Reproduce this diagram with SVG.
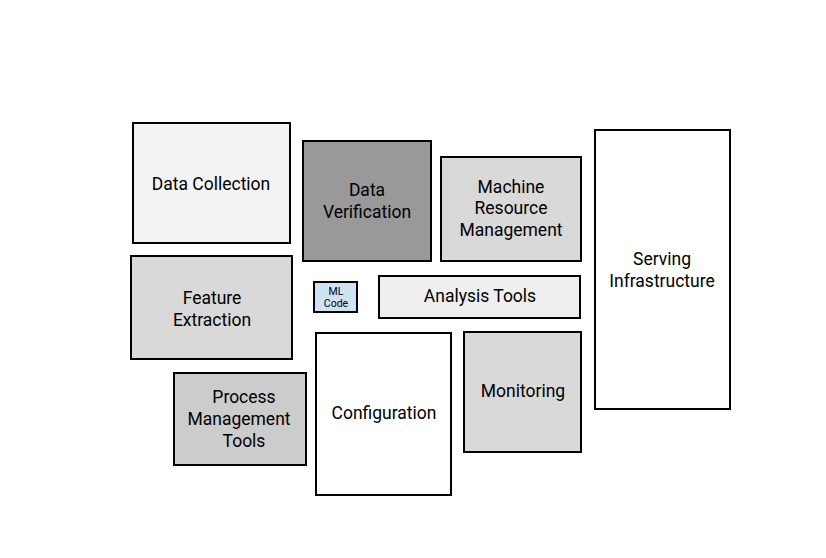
<svg xmlns="http://www.w3.org/2000/svg" width="826" height="558" viewBox="0 0 826 558">
<style>
rect{stroke:#000;stroke-width:2}
text{font-family:Roboto,"Liberation Sans",sans-serif;font-size:17.5px;fill:#000;text-anchor:middle}
.s{font-size:10.5px}
</style>
<rect x="0" y="0" width="826" height="558" style="fill:#fff;stroke:none"/>
<g id="data-collection"><rect x="133" y="123" width="157" height="120" fill="#f3f3f3"/><text x="211" y="190">Data Collection</text></g>
<g id="data-verification"><rect x="303" y="141" width="128" height="120" fill="#999999"/><text x="367" y="196">Data</text><text x="367" y="218">Verification</text></g>
<g id="machine-resource"><rect x="441" y="157" width="140" height="104" fill="#d9d9d9"/><text x="511" y="193">Machine</text><text x="511" y="214">Resource</text><text x="511" y="236">Management</text></g>
<g id="serving"><rect x="595" y="130" width="135" height="279" fill="#ffffff"/><text x="662" y="265">Serving</text><text x="662" y="287">Infrastructure</text></g>
<g id="feature-extraction"><rect x="131" y="256" width="161" height="103" fill="#d9d9d9"/><text x="212" y="304">Feature</text><text x="212" y="326">Extraction</text></g>
<g id="ml-code"><rect x="314" y="282" width="43" height="30" fill="#cfe2f3"/><text class="s" x="336" y="295">ML</text><text class="s" x="336" y="307">Code</text></g>
<g id="analysis-tools"><rect x="379" y="276" width="201" height="42" fill="#efefef"/><text x="480" y="302">Analysis Tools</text></g>
<g id="process-management"><rect x="174" y="373" width="132" height="92" fill="#cccccc"/><text x="244" y="403">Process</text><text x="239" y="425">Management</text><text x="244" y="447">Tools</text></g>
<g id="configuration"><rect x="316" y="333" width="135" height="162" fill="#ffffff"/><text x="384" y="419">Configuration</text></g>
<g id="monitoring"><rect x="464" y="332" width="117" height="120" fill="#d9d9d9"/><text x="523" y="397">Monitoring</text></g>
<g id="connectors"></g>
</svg>
